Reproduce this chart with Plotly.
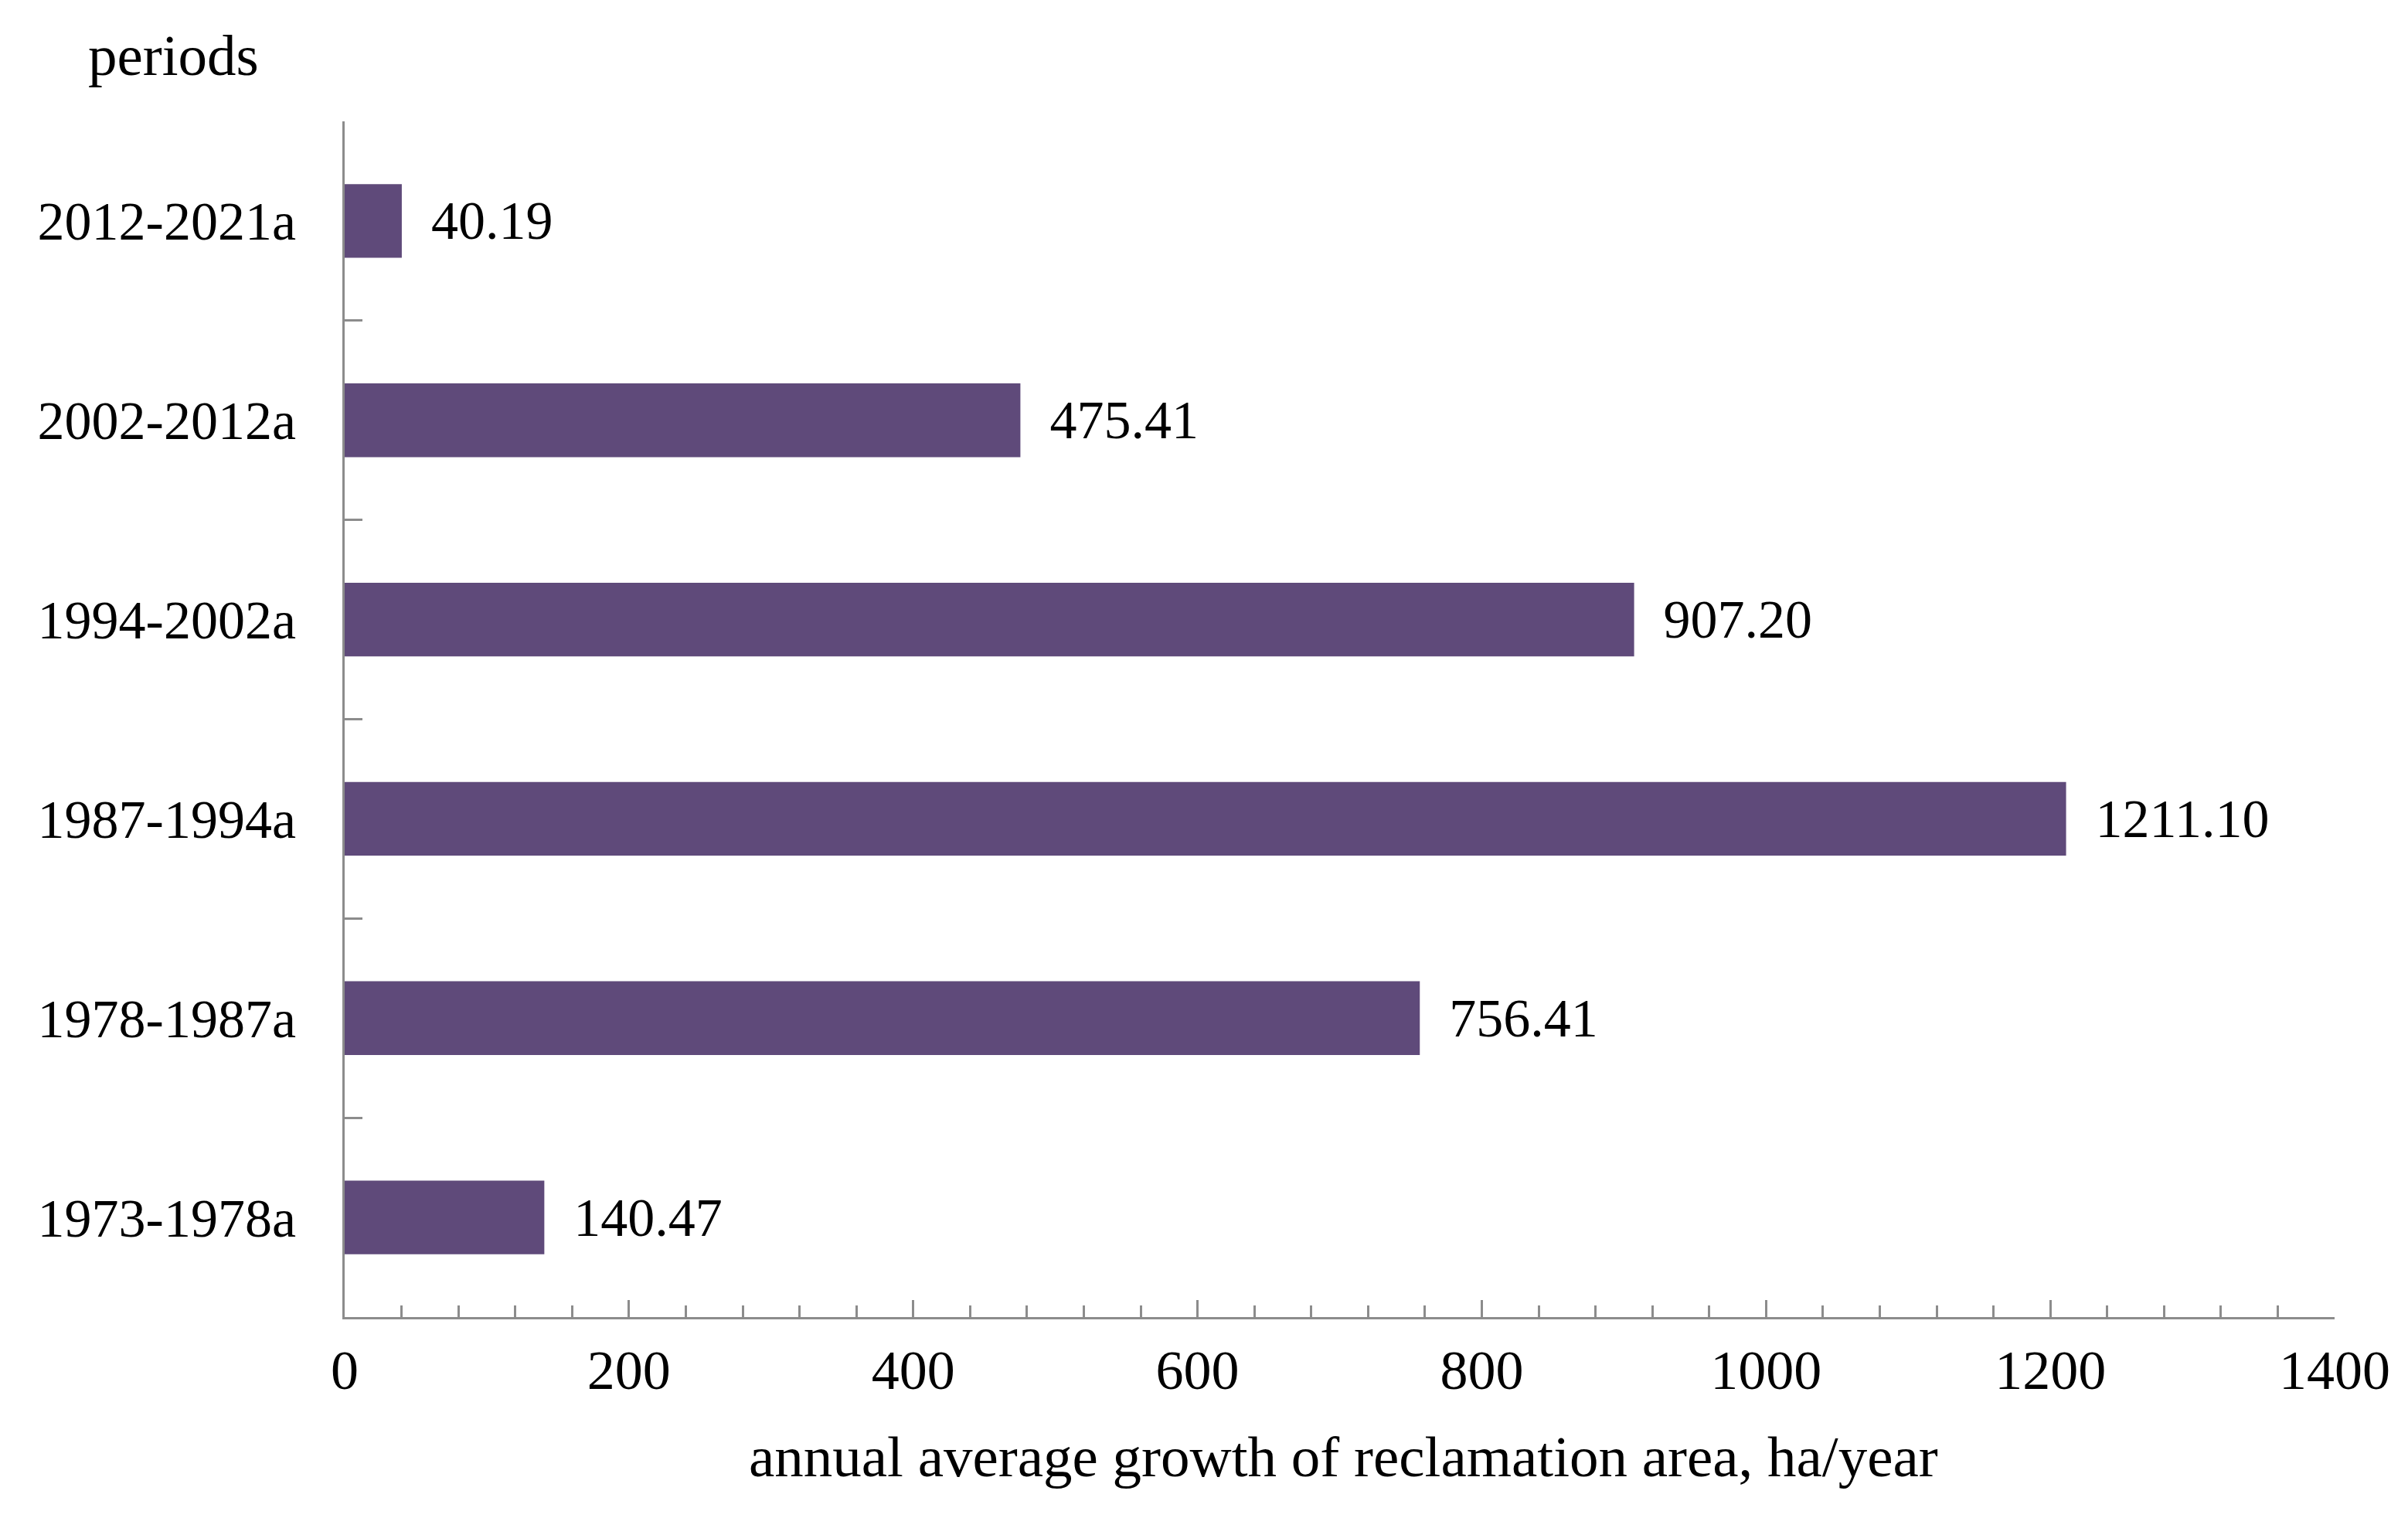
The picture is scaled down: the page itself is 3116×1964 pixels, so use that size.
import plotly.graph_objects as go

periods = ["1973-1978a", "1978-1987a", "1987-1994a", "1994-2002a", "2002-2012a", "2012-2021a"]
growth = [140.47, 756.41, 1211.10, 907.20, 475.41, 40.19]
x_tick_vals = [0, 200, 400, 600, 800, 1000, 1200, 1400]
x_title = "annual average growth of reclamation area, ha/year"
y_title = "periods"

FONT = "Liberation Serif"
AXIS_COLOR = "#8c8c8c"
BAR_COLOR = "#5f4a7a"

ypos = list(range(len(periods)))
boundaries = [i + 0.5 for i in ypos[:-1]]

fig = go.Figure()
fig.add_trace(go.Bar(
    x=growth,
    y=ypos,
    orientation="h",
    width=0.37,
    marker=dict(color=BAR_COLOR, line=dict(width=0)),
    text=[f"\u00a0\u00a0{v:.2f}" for v in growth],
    textposition="outside",
    textfont=dict(family=FONT, size=70, color="black"),
    cliponaxis=False,
    showlegend=False,
))

fig.update_layout(
    width=3116,
    height=1964,
    margin=dict(l=438, r=103, t=149, b=268),
    paper_bgcolor="white",
    plot_bgcolor="white",
    font=dict(family=FONT, size=70, color="black"),
    bargap=0.63,
)

fig.update_xaxes(
    range=[0, 1400],
    tickvals=x_tick_vals,
    ticktext=[str(v) for v in x_tick_vals],
    ticks="inside",
    ticklen=22,
    tickwidth=3,
    tickcolor=AXIS_COLOR,
    showline=True,
    linecolor=AXIS_COLOR,
    linewidth=3,
    showgrid=False,
    zeroline=False,
    ticklabelstandoff=4,
    tickfont=dict(family=FONT, size=72, color="black"),
    minor=dict(dtick=40, tick0=0, ticks="inside", ticklen=15, tickwidth=3,
               tickcolor=AXIS_COLOR, showgrid=False),
)

fig.update_yaxes(
    range=[-0.5, 5.5],
    tickmode="array",
    tickvals=ypos,
    ticktext=periods,
    ticks="",
    showline=True,
    linecolor=AXIS_COLOR,
    linewidth=3,
    showgrid=False,
    zeroline=False,
    ticklabelstandoff=46,
    tickfont=dict(family=FONT, size=70, color="black"),
    minor=dict(tickmode="array", tickvals=boundaries, ticks="inside", ticklen=23,
               tickwidth=3, tickcolor=AXIS_COLOR, showgrid=False),
)

fig.add_annotation(
    text=x_title, xref="paper", yref="paper", x=0.502, y=-0.117,
    xanchor="center", yanchor="middle", showarrow=False,
    font=dict(family=FONT, size=75, color="black"),
)
fig.add_annotation(
    text=y_title, xref="paper", yref="paper", x=-0.086, y=1.055,
    xanchor="center", yanchor="middle", showarrow=False,
    font=dict(family=FONT, size=75, color="black"),
)

fig.write_html("out.html")
